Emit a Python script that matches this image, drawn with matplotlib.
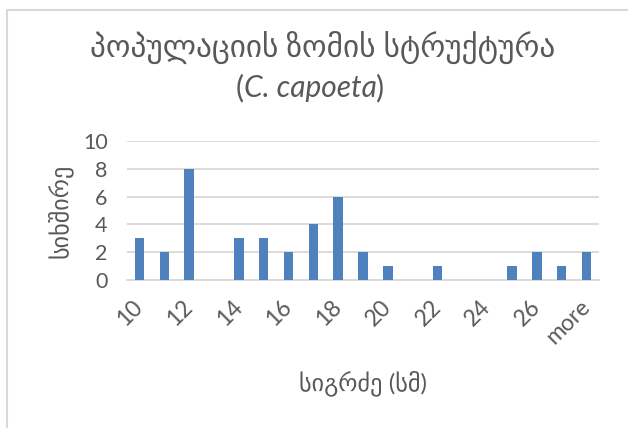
import matplotlib
matplotlib.use("Agg")
import matplotlib.pyplot as plt
from matplotlib.lines import Line2D
from matplotlib.offsetbox import TextArea, HPacker, AnnotationBbox

plt.rcParams['font.family'] = ['Lato', 'DejaVu Sans']

categories = ["10", "11", "12", "13", "14", "15", "16", "17", "18", "19",
              "20", "21", "22", "23", "24", "25", "26", "27", "more"]
counts = [3, 2, 8, 0, 3, 3, 2, 4, 6, 2, 1, 0, 1, 0, 0, 1, 2, 1, 2]

title_line1 = "პოპულაციის ზომის სტრუქტურა"
species = "C. capoeta"
y_label = "სიხშირე"
x_label = "სიგრძე (სმ)"
y_ticks = [0, 2, 4, 6, 8, 10]

text_color = "#595959"
grid_color = "#d9d9d9"
bar_color = "#4f81bd"

W, H = 628, 428
fig = plt.figure(figsize=(W / 100, H / 100), dpi=100)
fig.patch.set_facecolor("white")

ax = fig.add_axes([127 / W, 1 - 280 / H, (599 - 127) / W, (280 - 141) / H])
x = list(range(len(categories)))
ax.bar(x, counts, width=0.38, color=bar_color, zorder=3)

ax.set_xlim(-0.5, len(categories) - 0.5)
ax.set_ylim(0, 10)
ax.set_yticks(y_ticks)
ax.set_yticklabels([str(v) for v in y_ticks])
ax.yaxis.grid(True, color=grid_color, linewidth=1.3, zorder=0)
ax.set_axisbelow(True)
for side in ("top", "right", "left"):
    ax.spines[side].set_visible(False)
ax.spines["bottom"].set_color(grid_color)
ax.spines["bottom"].set_linewidth(1.3)

shown = x[::2]
ax.set_xticks(shown)
ax.set_xticklabels([categories[i] for i in shown], rotation=45,
                   ha="right", va="center", rotation_mode="anchor")
ax.tick_params(axis="both", length=0, labelcolor=text_color)
ax.tick_params(axis="x", pad=17, labelsize=16.5)
ax.tick_params(axis="y", pad=14, labelsize=15.5)

# titles and axis labels
fig.text(323 / W, 1 - 47 / H, title_line1, ha="center", va="center",
         fontsize=22.5, color=text_color)

parts = [
    TextArea("(", textprops=dict(fontsize=21.5, color=text_color)),
    TextArea(species, textprops=dict(fontsize=21.5, color=text_color, style="italic")),
    TextArea(")", textprops=dict(fontsize=21.5, color=text_color)),
]
pack = HPacker(children=parts, align="baseline", pad=0, sep=0)
ab = AnnotationBbox(pack, (310 / W, 1 - 88 / H), xycoords="figure fraction",
                    frameon=False, box_alignment=(0.5, 0.5))
fig.add_artist(ab)

fig.text(60 / W, 1 - 211 / H, y_label, rotation=90, ha="center", va="center",
         fontsize=17.5, color=text_color)
fig.text(363 / W, 1 - 383 / H, x_label, ha="center", va="center",
         fontsize=17.5, color=text_color)

# chart frame
fig.add_artist(Line2D([6.5 / W, 6.5 / W, 1.0], [0.0, 1 - 9.5 / H, 1 - 9.5 / H],
                      transform=fig.transFigure, color=grid_color, linewidth=1.5))

fig.savefig("out.png", dpi=100, facecolor="white")
